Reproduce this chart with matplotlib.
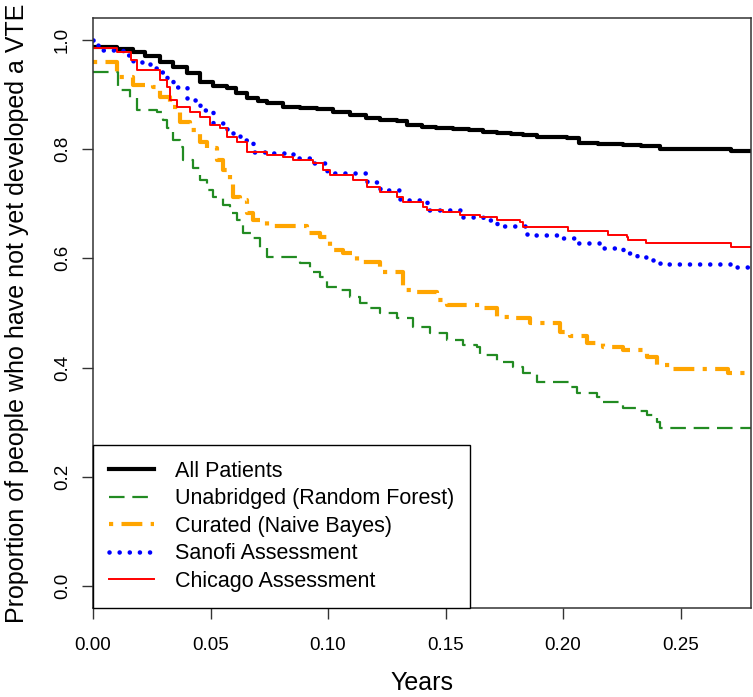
import numpy as np
import matplotlib
matplotlib.use("Agg")
import matplotlib.pyplot as plt

plt.rcParams['font.family'] = ['Liberation Sans', 'DejaVu Sans']

# Kaplan-Meier style step curves (event time, survival after it)
all_t = [0, 0.010, 0.017, 0.022, 0.0285, 0.034, 0.040, 0.0455, 0.051, 0.057, 0.061,
         0.0655, 0.070, 0.074, 0.081, 0.088, 0.0953, 0.102, 0.1094, 0.116, 0.122,
         0.1294, 0.1336, 0.140, 0.146, 0.153, 0.160, 0.166, 0.172, 0.178, 0.183,
         0.189, 0.2017, 0.207, 0.215, 0.2255, 0.233, 0.2413, 0.2715]
all_s = [0.987, 0.984, 0.977, 0.970, 0.959, 0.950, 0.939, 0.922, 0.916, 0.911, 0.902,
         0.893, 0.888, 0.884, 0.877, 0.875, 0.873, 0.868, 0.862, 0.857, 0.853,
         0.851, 0.844, 0.841, 0.838, 0.836, 0.835, 0.831, 0.829, 0.827, 0.826,
         0.822, 0.820, 0.811, 0.809, 0.807, 0.805, 0.800, 0.796]

rf_t = [0, 0.0106, 0.0157, 0.0187, 0.0272, 0.0298, 0.0315, 0.034, 0.037, 0.0383,
        0.0426, 0.0455, 0.0485, 0.0511, 0.0553, 0.0583, 0.0613, 0.0638, 0.0681,
        0.0711, 0.074, 0.0881, 0.0923, 0.0966, 0.0996, 0.1051, 0.1094, 0.1136,
        0.1179, 0.1221, 0.1294, 0.1362, 0.1434, 0.1506, 0.1574, 0.1634, 0.1647,
        0.1719, 0.1787, 0.183, 0.1889, 0.203, 0.206, 0.2145, 0.217, 0.2255,
        0.2315, 0.2357, 0.240, 0.2413]
rf_s = [0.941, 0.908, 0.893, 0.871, 0.868, 0.853, 0.838, 0.816, 0.804, 0.780,
        0.765, 0.743, 0.725, 0.712, 0.698, 0.683, 0.670, 0.647, 0.637,
        0.619, 0.603, 0.592, 0.575, 0.566, 0.548, 0.542, 0.530, 0.519,
        0.510, 0.500, 0.491, 0.475, 0.464, 0.451, 0.442, 0.437, 0.424,
        0.411, 0.402, 0.391, 0.374, 0.365, 0.354, 0.347, 0.338, 0.327,
        0.320, 0.314, 0.301, 0.290]

nb_t = [0, 0.0102, 0.017, 0.0255, 0.0285, 0.0328, 0.037, 0.0413, 0.0455, 0.0485,
        0.0528, 0.0553, 0.0583, 0.0596, 0.0626, 0.0655, 0.0681, 0.074, 0.0911,
        0.0966, 0.1009, 0.1064, 0.1123, 0.1221, 0.1319, 0.1379, 0.1464, 0.1506,
        0.1647, 0.1719, 0.1787, 0.186, 0.1987, 0.203, 0.2102, 0.217, 0.2255,
        0.2357, 0.240, 0.2455, 0.2702]
nb_s = [0.959, 0.932, 0.917, 0.913, 0.895, 0.877, 0.849, 0.835, 0.813, 0.802,
        0.780, 0.762, 0.740, 0.712, 0.707, 0.683, 0.670, 0.659, 0.647,
        0.639, 0.616, 0.610, 0.594, 0.575, 0.542, 0.539, 0.524, 0.515,
        0.510, 0.493, 0.491, 0.482, 0.466, 0.457, 0.446, 0.438, 0.433,
        0.420, 0.405, 0.398, 0.391]

sanofi_t = [0, 0.002, 0.0128, 0.017, 0.0243, 0.0285, 0.0315, 0.034, 0.040, 0.0455,
            0.0511, 0.057, 0.0626, 0.0681, 0.074, 0.0851, 0.0936, 0.0996, 0.1166,
            0.1221, 0.1306, 0.1421, 0.1562, 0.166, 0.1719, 0.1847, 0.1987, 0.206,
            0.217, 0.2255, 0.2315, 0.2383, 0.2413, 0.2723]
sanofi_s = [1.0, 0.981, 0.972, 0.959, 0.948, 0.941, 0.926, 0.913, 0.889, 0.871,
            0.847, 0.829, 0.816, 0.795, 0.793, 0.784, 0.774, 0.756, 0.740,
            0.725, 0.707, 0.689, 0.676, 0.670, 0.659, 0.643, 0.637, 0.628,
            0.619, 0.610, 0.603, 0.595, 0.590, 0.585]

chicago_t = [0, 0.0102, 0.016, 0.0187, 0.0285, 0.0315, 0.0328, 0.0357, 0.0413,
             0.0455, 0.0498, 0.054, 0.057, 0.0613, 0.0655, 0.074, 0.0809, 0.0851,
             0.0936, 0.0979, 0.1009, 0.1106, 0.1166, 0.1221, 0.1294, 0.1319, 0.1404,
             0.1421, 0.1489, 0.1562, 0.1647, 0.1719, 0.1817, 0.183, 0.2021, 0.2191,
             0.2272, 0.2277, 0.2353, 0.2715]
chicago_s = [0.985, 0.977, 0.963, 0.944, 0.926, 0.913, 0.889, 0.877, 0.868,
             0.858, 0.844, 0.838, 0.822, 0.813, 0.795, 0.789, 0.785, 0.780,
             0.774, 0.762, 0.753, 0.743, 0.731, 0.722, 0.712, 0.703, 0.694,
             0.689, 0.685, 0.679, 0.676, 0.670, 0.667, 0.658, 0.650, 0.643,
             0.639, 0.634, 0.628, 0.621]

labels = ['All Patients', 'Unabridged (Random Forest)', 'Curated (Naive Bayes)',
          'Sanofi Assessment', 'Chicago Assessment']

t_end = 0.28

def extend(t, s):
    # carry the last value to the end of follow-up
    return list(t) + [t_end], list(s) + [s[-1]]

fig = plt.figure(figsize=(7.53, 6.97), dpi=100)
ax = fig.add_axes([93/753, 89/697, 658/753, 590/697])

styles = [
    (all_t, all_s, dict(color='black', lw=3.0, ls='-')),
    (rf_t, rf_s, dict(color='#228B22', lw=1.6, ls=(0, (7, 3.5)))),
    (nb_t, nb_s, dict(color='#FFA500', lw=3.0, ls=(0, (1, 2, 5, 2)))),
    (sanofi_t, sanofi_s, dict(color='#0000FF', lw=3.3, ls=(0, (0.01, 2.2)),
                              dash_capstyle='round')),
    (chicago_t, chicago_s, dict(color='#FF0000', lw=1.4, ls='-')),
]
for (t, s, kw), lab in zip(styles, labels):
    tt, ss = extend(t, s)
    ax.step(tt, ss, where='post', label=lab, **kw)

ax.set_xlim(0, t_end)
ax.set_ylim(-0.04, 1.04)
ax.set_xticks(np.arange(0, 0.26, 0.05))
ax.set_xticklabels(['%.2f' % v for v in np.arange(0, 0.26, 0.05)])
ax.set_yticks(np.arange(0, 1.01, 0.2))
ax.set_yticklabels(['%.1f' % v for v in np.arange(0, 1.01, 0.2)], rotation=90, va='center')
ax.tick_params(axis='both', length=8, width=1, labelsize=13.5, color='#333333')
ax.tick_params(axis='x', pad=13)
ax.tick_params(axis='y', pad=8)
for sp in ax.spines.values():
    sp.set_linewidth(1.1)
    sp.set_color('#333333')

ax.set_xlabel('Years', fontsize=18, labelpad=12)
ax.set_ylabel('Proportion of people who have not yet developed a VTE', fontsize=18, labelpad=18)

leg = ax.legend(loc='lower left', fontsize=15.5, frameon=True, fancybox=False,
                edgecolor='black', framealpha=1, borderaxespad=0,
                handlelength=2.1, handletextpad=0.95, labelspacing=0.3,
                borderpad=0.75)
leg.get_frame().set_linewidth(1.0)

fig.savefig('out.png', dpi=100)
